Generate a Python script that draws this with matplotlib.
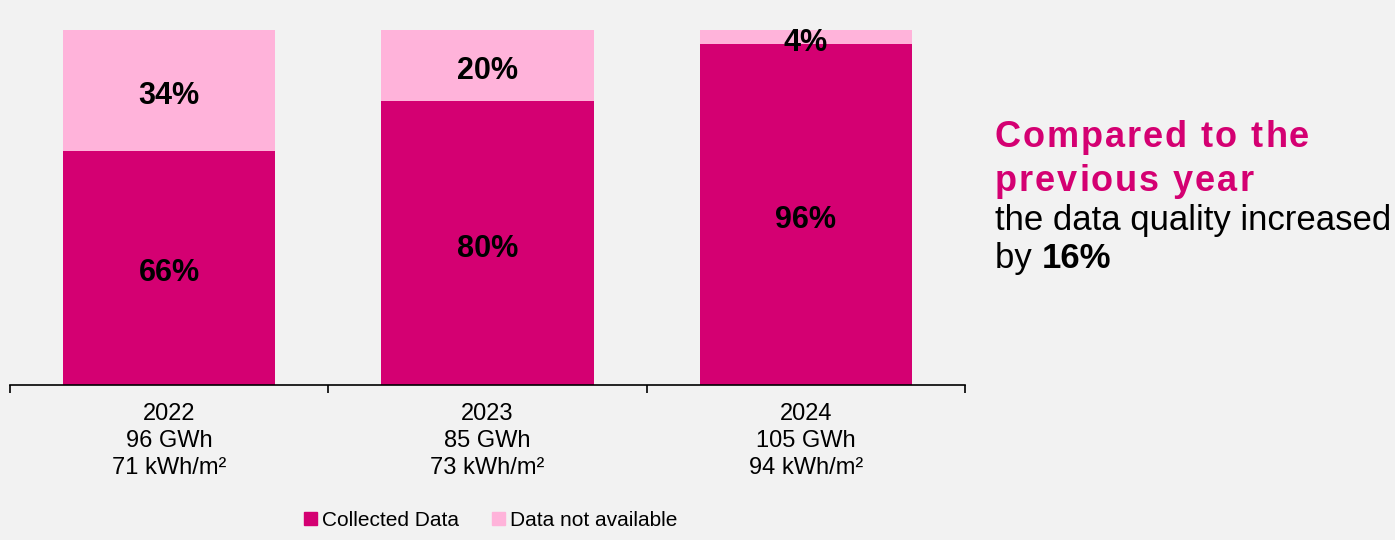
import matplotlib.pyplot as plt
from matplotlib.patches import Patch

plt.rcParams['font.family'] = ['Liberation Sans', 'DejaVu Sans']

# Daten
years = ["2022", "2023", "2024"]
energy = ["96 GWh", "85 GWh", "105 GWh"]
intensity = ["71 kWh/m²", "73 kWh/m²", "94 kWh/m²"]
collected = [66, 80, 96]
not_available = [34, 20, 4]

MAGENTA = "#d40072"
PINK = "#ffb3da"
BG = "#f2f2f2"


# Text mit Sperrung: jedes Zeichen wird an das vorherige angehängt
def spaced_text(fig, x, y, s, spacing, **kw):
    first = fig.text(x, y, s[0], va="baseline", **kw)
    prev = first
    for ch in s[1:]:
        if ch == " ":
            ch = "\u00a0"
        prev = fig.axes[0].annotate(ch, xy=(1, 0), xycoords=prev,
                                    xytext=(spacing, 0), textcoords="offset points",
                                    va="bottom", annotation_clip=False, **kw)
    return first


fig = plt.figure(figsize=(13.95, 5.4), dpi=100, facecolor=BG)
ax = fig.add_axes([10 / 1395, 1 - 385 / 540, 955 / 1395, 355 / 540])
ax.set_facecolor(BG)

x = list(range(len(years)))
ax.bar(x, collected, width=0.667, color=MAGENTA)
ax.bar(x, not_available, width=0.667, bottom=collected, color=PINK)

# Prozentwerte mittig in den Segmenten
for i in x:
    ax.annotate(f"{collected[i]}%", xy=(i, collected[i] / 2), xytext=(0, -4),
                textcoords="offset points", ha="center", va="center",
                fontsize=22, fontweight="bold", color="black")
    ax.annotate(f"{not_available[i]}%", xy=(i, collected[i] + not_available[i] / 2),
                xytext=(0, -4), textcoords="offset points", ha="center", va="center",
                fontsize=22, fontweight="bold", color="black", annotation_clip=False)

ax.set_xlim(-0.5, 2.5)
ax.set_ylim(0, 100)
ax.set_yticks([])
for s in ["top", "right", "left"]:
    ax.spines[s].set_visible(False)
ax.spines["bottom"].set_linewidth(1.2)

# Beschriftung unter den Balken, Trennstriche zwischen den Kategorien
ax.set_xticks(x)
ax.set_xticklabels([f"{y}\n{e}\n{k}" for y, e, k in zip(years, energy, intensity)],
                   fontsize=17, linespacing=1.28)
ax.tick_params(axis="x", which="major", length=0, pad=13)
ax.set_xticks([-0.5, 0.5, 1.5, 2.5], minor=True)
ax.tick_params(axis="x", which="minor", length=6, width=1.2, direction="out")

fig.legend(handles=[Patch(color=MAGENTA, label="Collected Data"),
                    Patch(color=PINK, label="Data not available")],
           loc="center", bbox_to_anchor=(491 / 1395, 1 - 520 / 540), ncol=2,
           frameon=False, fontsize=15, handlelength=0.6, handleheight=0.6,
           handletextpad=0.25, columnspacing=1.6)

# Kommentar rechts
spaced_text(fig, 995 / 1395, 1 - 147 / 540, "Compared to the", 1.4,
            fontsize=26, fontweight="bold", color=MAGENTA)
spaced_text(fig, 995 / 1395, 1 - 191 / 540, "previous year", 1.4,
            fontsize=26, fontweight="bold", color=MAGENTA)
fig.text(995 / 1395, 1 - 230 / 540, "the data quality increased", fontsize=25,
         color="black", va="baseline")
t = fig.text(995 / 1395, 1 - 268 / 540, "by ", fontsize=25, color="black",
             va="baseline")
ax.annotate("16%", xy=(1, 0), xycoords=t, fontsize=25, fontweight="bold",
            color="black", va="bottom", annotation_clip=False)

fig.savefig("out.png", dpi=100, facecolor=BG)
